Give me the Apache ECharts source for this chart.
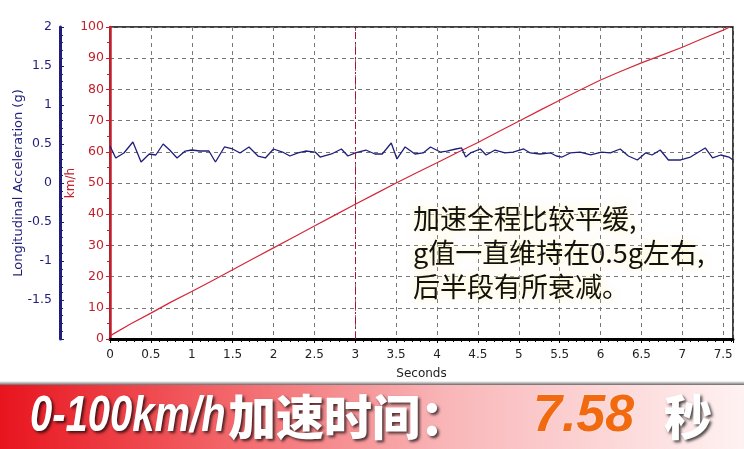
<!DOCTYPE html>
<html><head><meta charset="utf-8">
<script src="https://cdn.jsdelivr.net/npm/echarts@6/dist/echarts.min.js"></script>
<style>html,body{margin:0;padding:0;background:#fff}#c{width:744px;height:449px}</style>
</head><body><div id="c"></div>
<script>
// Longitudinal acceleration (g) over time (s)
const gTimes = [0,0.07,0.17,0.28,0.38,0.48,0.56,0.65,0.73,0.82,0.92,1.0,1.1,1.21,1.29,1.4,1.5,1.59,1.7,1.81,1.9,2.0,2.11,2.2,2.3,2.39,2.51,2.57,2.71,2.83,2.91,3.0,3.13,3.24,3.33,3.44,3.51,3.61,3.73,3.83,3.92,4.04,4.12,4.23,4.3,4.35,4.41,4.53,4.6,4.71,4.83,4.93,5.06,5.14,5.26,5.39,5.46,5.53,5.63,5.75,5.88,6.01,6.12,6.24,6.34,6.45,6.55,6.63,6.73,6.83,6.98,7.1,7.22,7.28,7.37,7.47,7.57,7.62];
const gValues = [0.474,0.321,0.385,0.526,0.269,0.372,0.359,0.5,0.423,0.321,0.41,0.423,0.41,0.41,0.269,0.462,0.436,0.385,0.462,0.346,0.321,0.436,0.397,0.346,0.385,0.41,0.397,0.333,0.372,0.436,0.346,0.385,0.423,0.372,0.372,0.513,0.308,0.462,0.372,0.385,0.462,0.397,0.41,0.436,0.449,0.333,0.385,0.436,0.359,0.423,0.385,0.397,0.436,0.385,0.372,0.385,0.346,0.333,0.385,0.397,0.359,0.397,0.385,0.436,0.346,0.295,0.385,0.359,0.423,0.295,0.295,0.333,0.41,0.449,0.321,0.359,0.333,0.295];
// Speed (km/h) over time (s)
const vTimes = [0,0.25,0.5,0.75,1,1.25,1.5,1.75,2,2.25,2.5,2.75,3,3.25,3.5,3.75,4,4.25,4.5,4.75,5,5.25,5.5,5.75,6,6.25,6.5,6.75,7,7.25,7.5,7.58];
const vValues = [1,4.8,8.3,11.9,15.2,18.7,22.2,25.7,29.2,32.7,36.2,39.7,43.2,46.6,50,53.3,56.5,59.8,63,66.4,69.8,73.2,76.5,79.8,83,85.8,88.5,91,93.5,96.3,99,100];
const xTicks = ['0','0.5','1','1.5','2','2.5','3','3.5','4','4.5','5','5.5','6','6.5','7','7.5'];
const gTicks = ['2','1.5','1','0.5','0','-0.5','-1','-1.5'];
const vTicks = ['0','10','20','30','40','50','60','70','80','90','100'];
const markTime = 3;
const caption = ['加速全程比较平缓,', 'g值一直维持在0.5g左右,', '后半段有所衰减。'];
const bannerLatin = '0-100km/h';
const bannerCJK = '加速时间：';
const bannerValue = '7.58';
const bannerUnit = '秒';

const navy = '#1f1f7a', red = '#c4202c';
const fmt = (list) => (v) => { const s = String(Math.round(v*100)/100); return list.includes(s) ? s : ''; };
const whiteShadow = { fill: '#fff', textShadowColor: 'rgba(0,0,0,0.7)', textShadowBlur: 3, textShadowOffsetX: 2, textShadowOffsetY: 2 };

const chart = echarts.init(document.getElementById('c'));
chart.setOption({
  backgroundColor: '#fff',
  animation: false,
  grid: { left: 110, top: 27, right: 11, bottom: 110, show: true, borderColor: '#000', borderWidth: 1.5, outerBoundsMode: 'none', containLabel: false },
  xAxis: {
    type: 'value', min: 0, max: 7.62, interval: 0.5,
    name: 'Seconds', nameLocation: 'middle', nameGap: 29,
    nameTextStyle: { color: '#222', fontSize: 12, fontFamily: 'DejaVu Sans' },
    axisLine: { onZero: false, lineStyle: { color: '#000', width: 3 } },
    axisTick: { show: true, length: 4, lineStyle: { color: '#000' } },
    minorTick: { show: true, splitNumber: 5, length: 3, lineStyle: { color: '#000' } },
    axisLabel: { color: '#222', fontSize: 12, margin: 10, fontFamily: 'DejaVu Sans', formatter: fmt(xTicks), showMaxLabel: false },
    splitLine: { show: true, lineStyle: { color: '#777', type: [4, 4], width: 1 } }
  },
  yAxis: [
    {
      type: 'value', min: 0, max: 100, interval: 10, position: 'left',
      name: 'km/h', nameLocation: 'middle', nameGap: 33, nameMoveOverlap: false,
      nameTextStyle: { color: red, fontSize: 12, fontFamily: 'DejaVu Sans' },
      axisLine: { show: true, lineStyle: { color: red, width: 2.5 } },
      axisTick: { show: true, length: 4, lineStyle: { color: red } },
      minorTick: { show: true, splitNumber: 2, length: 3, lineStyle: { color: red } },
      axisLabel: { color: red, fontSize: 12.5, margin: 6, fontFamily: 'DejaVu Sans', formatter: fmt(vTicks) },
      splitLine: { show: true, lineStyle: { color: '#777', type: [4, 4], width: 1 } }
    },
    {
      type: 'value', min: -2, max: 2, interval: 0.5, position: 'left', offset: 50,
      name: 'Longitudinal Acceleration (g)', nameLocation: 'middle', nameGap: 35, nameMoveOverlap: false,
      nameTextStyle: { color: navy, fontSize: 13, fontFamily: 'DejaVu Sans' },
      axisLine: { show: true, lineStyle: { color: navy, width: 3 } },
      axisTick: { show: true, inside: true, length: 4, lineStyle: { color: navy } },
      minorTick: { show: true, splitNumber: 5, length: 3, lineStyle: { color: navy } },
      axisLabel: { color: navy, fontSize: 12.5, margin: 8, fontFamily: 'DejaVu Sans', formatter: fmt(gTicks) },
      splitLine: { show: false }
    }
  ],
  series: [
    {
      type: 'line', yAxisIndex: 0, showSymbol: false, symbol: 'none',
      data: vTimes.map((t, i) => [t, vValues[i]]),
      lineStyle: { color: '#d42838', width: 1.2 },
      markLine: {
        silent: true, symbol: 'none', label: { show: false },
        lineStyle: { color: '#b01020', type: [7, 3, 2, 3], width: 1 },
        data: [{ xAxis: markTime }]
      }
    },
    {
      type: 'line', yAxisIndex: 1, showSymbol: false, symbol: 'none',
      data: gTimes.map((t, i) => [t, gValues[i]]),
      lineStyle: { color: navy, width: 1.3 }
    }
  ],
  graphic: [
    {
      type: 'text', left: 413, top: 202, z: 100,
      style: {
        text: caption.join('\n'), font: '27px "Noto Sans CJK SC"', lineHeight: 34,
        fill: '#111', textShadowColor: '#fff6b0', textShadowBlur: 8
      }
    },
    {
      type: 'rect', z: 90, shape: { x: 0, y: 381, width: 744, height: 5 },
      style: { fill: new echarts.graphic.LinearGradient(0, 0, 0, 1, [{ offset: 0, color: 'rgba(60,60,60,0)' }, { offset: 1, color: 'rgba(40,40,40,0.9)' }]) }
    },
    {
      type: 'rect', z: 90, shape: { x: 0, y: 385, width: 744, height: 64 },
      style: { fill: new echarts.graphic.LinearGradient(0, 0, 1, 0, [
        { offset: 0, color: '#e8141e' }, { offset: 0.3, color: '#f26468' },
        { offset: 0.6, color: '#f9b6b8' }, { offset: 1, color: '#fff2f2' }]) }
    },
    {
      type: 'group', z: 95, x: 30, y: 417, scaleX: 0.8,
      children: [{
        type: 'text', z: 95,
        style: Object.assign({ text: bannerLatin, x: 0, y: 0, verticalAlign: 'middle',
          font: 'italic bold 50px "Liberation Sans"' }, whiteShadow)
      }]
    },
    {
      type: 'text', z: 95, x: 228, y: 417,
      style: Object.assign({ text: bannerCJK, verticalAlign: 'middle',
        font: '900 48px "Noto Sans CJK SC"' }, whiteShadow)
    },
    {
      type: 'text', z: 95, x: 533, y: 417,
      style: { text: bannerValue, verticalAlign: 'middle',
        font: 'italic bold 52px "Liberation Sans"', fill: '#f26a10',
        textShadowColor: 'rgba(255,255,255,0.6)', textShadowBlur: 2 }
    },
    {
      type: 'text', z: 95, x: 664, y: 417,
      style: Object.assign({ text: bannerUnit, verticalAlign: 'middle',
        font: '900 48px "Noto Sans CJK SC"' }, whiteShadow)
    }
  ]
});
</script></body></html>
